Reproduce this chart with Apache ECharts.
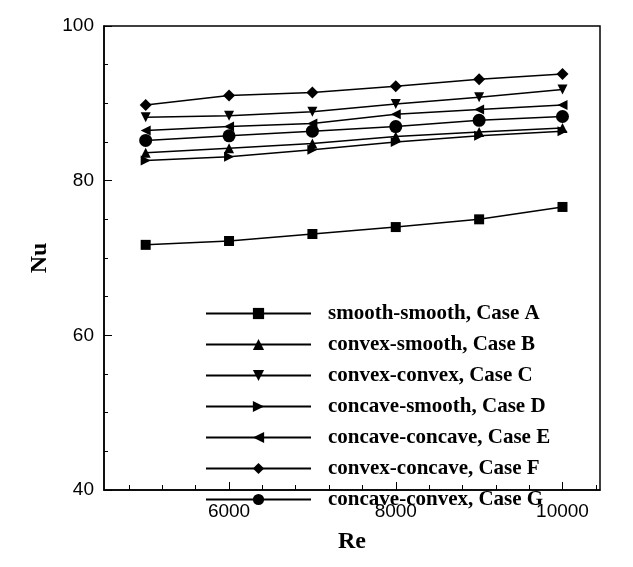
<!DOCTYPE html><html><head><meta charset="utf-8"><script src="https://cdn.jsdelivr.net/npm/echarts@6/dist/echarts.min.js"></script></head><body style="margin:0;background:#fff"><div id="c" style="width:633px;height:567px"></div><script>
const re=[5000,6000,7000,8000,9000,10000];
const names=['smooth-smooth, Case A','convex-smooth, Case B','convex-convex, Case C','concave-smooth, Case D','concave-concave, Case E','convex-concave, Case F','concave-convex, Case G'];
const caseA=[71.7,72.2,73.1,74.0,75.0,76.6];
const caseB=[83.6,84.2,84.8,85.7,86.3,86.8];
const caseC=[88.2,88.4,88.9,89.9,90.8,91.8];
const caseD=[82.6,83.1,84.0,85.0,85.8,86.4];
const caseE=[86.5,87.0,87.4,88.6,89.2,89.8];
const caseF=[89.8,91.0,91.4,92.2,93.1,93.8];
const caseG=[85.2,85.8,86.4,87.0,87.8,88.3];
const xLabels=[6000,8000,10000];
const xMinor=[4800,5200,5600,6400,6800,7200,7600,8400,8800,9200,9600,10400];
const data=[caseA,caseB,caseC,caseD,caseE,caseF,caseG];
const syms=['rect','triangle','path://M0,0L10,0L5,10Z','path://M0,0L10,5L0,10Z','path://M10,0L0,5L10,10Z','diamond','circle'];
const sizes=[10,10,10,10,10,12,13];
const font='"Liberation Serif", "DejaVu Serif", serif';
const chart=echarts.init(document.getElementById('c'));
chart.setOption({animation:false,
grid:{left:104,right:33,top:26,bottom:77,show:true,borderColor:'#000',borderWidth:1.5},
xAxis:[{type:'value',min:4500,max:10450,name:'Re',nameLocation:'middle',nameGap:40,
 nameTextStyle:{fontFamily:font,fontWeight:'bold',fontSize:24,color:'#000'},
 axisLine:{lineStyle:{color:'#000',width:1.5}},splitLine:{show:false},
 axisTick:{customValues:xLabels,inside:true,length:8,lineStyle:{color:'#000'}},
 axisLabel:{customValues:xLabels,formatter:v=>String(v),color:'#000',fontSize:19,fontFamily:'Liberation Sans, Arial',margin:12}},
 {type:'value',min:4500,max:10450,position:'bottom',axisLine:{show:false},axisLabel:{show:false},splitLine:{show:false},
 axisTick:{customValues:xMinor,inside:true,length:5,lineStyle:{color:'#000'}}}],
yAxis:{type:'value',min:40,max:100,interval:20,name:'Nu',nameLocation:'middle',nameGap:52,
 nameTextStyle:{fontFamily:font,fontWeight:'bold',fontSize:24,color:'#000'},
 axisLine:{lineStyle:{color:'#000',width:1.5}},splitLine:{show:false},
 axisTick:{inside:true,length:8,lineStyle:{color:'#000'}},
 minorTick:{show:true,splitNumber:4,length:4,lineStyle:{color:'#000'}},
 axisLabel:{color:'#000',fontSize:19,fontFamily:'Liberation Sans, Arial',margin:10}},
legend:{orient:'vertical',left:200,top:298,itemWidth:105,itemHeight:14,itemGap:10,
 textStyle:{fontFamily:font,fontWeight:'bold',fontSize:21,lineHeight:14,color:'#000',padding:[0,0,0,12]},
 data:names},
series:data.map((d,i)=>({name:names[i],type:'line',xAxisIndex:0,data:re.map((x,j)=>[x,d[j]]),symbol:syms[i],symbolSize:sizes[i],
 lineStyle:{color:'#000',width:1.5},itemStyle:{color:'#000'}}))
});
</script></body></html>
